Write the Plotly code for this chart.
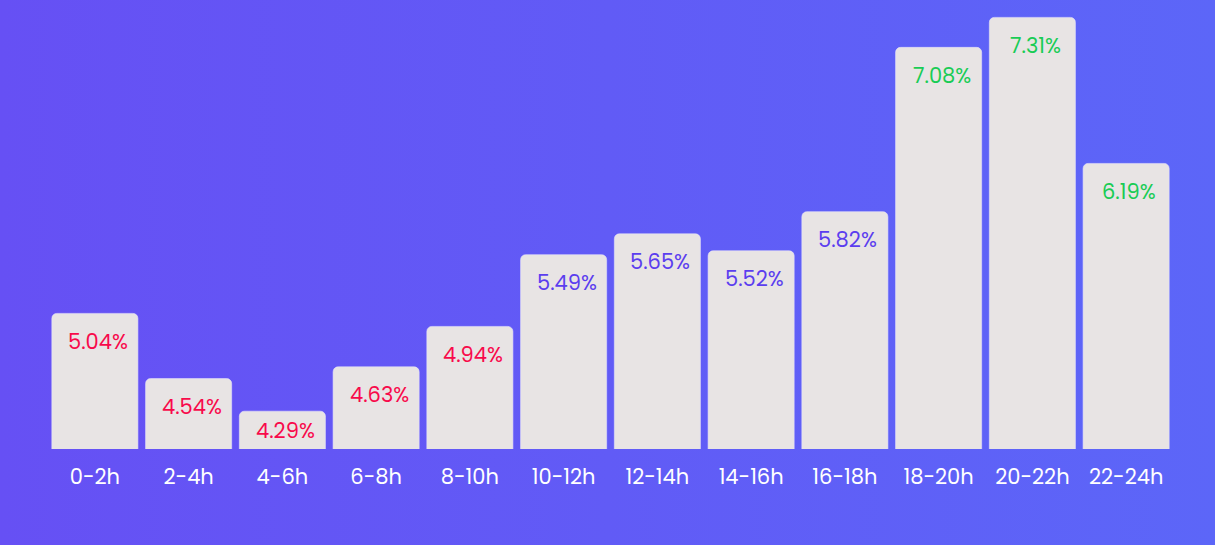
import plotly.graph_objects as go
import urllib.parse

categories = ["0-2h", "2-4h", "4-6h", "6-8h", "8-10h", "10-12h", "12-14h",
              "14-16h", "16-18h", "18-20h", "20-22h", "22-24h"]
values = [5.04, 4.54, 4.29, 4.63, 4.94, 5.49, 5.65, 5.52, 5.82, 7.08, 7.31, 6.19]
label_colors = ["#F80A4B"] * 5 + ["#5B3EEF"] * 4 + ["#19CC55"] * 3

W, H = 1215, 545
ML, MR, MT, MB = 48, 42, 10, 96
PW, PH = W - ML - MR, H - MT - MB
Y0 = 4.0
PX_PER_UNIT = 130.4

FONT = "Poppins, Inter, Lato, sans-serif"

svg = ('<svg xmlns="http://www.w3.org/2000/svg" width="100" height="100" '
       'viewBox="0 0 100 100" preserveAspectRatio="none">'
       '<defs><linearGradient id="g" x1="0" y1="0" x2="1" y2="0">'
       '<stop offset="0" stop-color="#6650F4"/>'
       '<stop offset="1" stop-color="#5C66F8"/></linearGradient></defs>'
       '<rect width="100" height="100" fill="url(#g)"/></svg>')
src = "data:image/svg+xml;charset=utf-8," + urllib.parse.quote(svg)

fig = go.Figure(go.Bar(
    x=categories, y=values,
    marker=dict(color="#E8E4E4", line=dict(color="rgba(230,226,250,0.6)", width=1)),
    hoverinfo="x+y",
))

offset = 28 / PX_PER_UNIT
for c, v, col in zip(categories, values, label_colors):
    ly = max(v - offset, (Y0 + v) / 2)
    fig.add_annotation(x=c, y=ly, text=f"{v:.2f}%", showarrow=False,
                       yanchor="middle", xshift=3,
                       font=dict(family=FONT, size=21, color=col))

fig.update_layout(
    width=W, height=H,
    margin=dict(l=ML, r=MR, t=MT, b=MB),
    paper_bgcolor="#6159F6", plot_bgcolor="rgba(0,0,0,0)",
    bargap=0.082, barcornerradius=5,
    showlegend=False,
    images=[dict(source=src, xref="paper", yref="paper",
                 x=-ML / PW, y=1 + MT / PH, sizex=W / PW, sizey=H / PH,
                 xanchor="left", yanchor="top", sizing="stretch", layer="below")],
    xaxis=dict(showgrid=False, zeroline=False, showline=False,
               ticks="outside", ticklen=9, tickcolor="rgba(0,0,0,0)",
               tickfont=dict(family=FONT, size=21, color="#FFFFFF")),
    yaxis=dict(range=[Y0, Y0 + PH / PX_PER_UNIT], showgrid=False, zeroline=False,
               showline=False, showticklabels=False),
)

fig.write_html("out.html", config={"displayModeBar": False},
               post_script="document.body.style.margin='0';document.body.style.overflow='hidden';")
